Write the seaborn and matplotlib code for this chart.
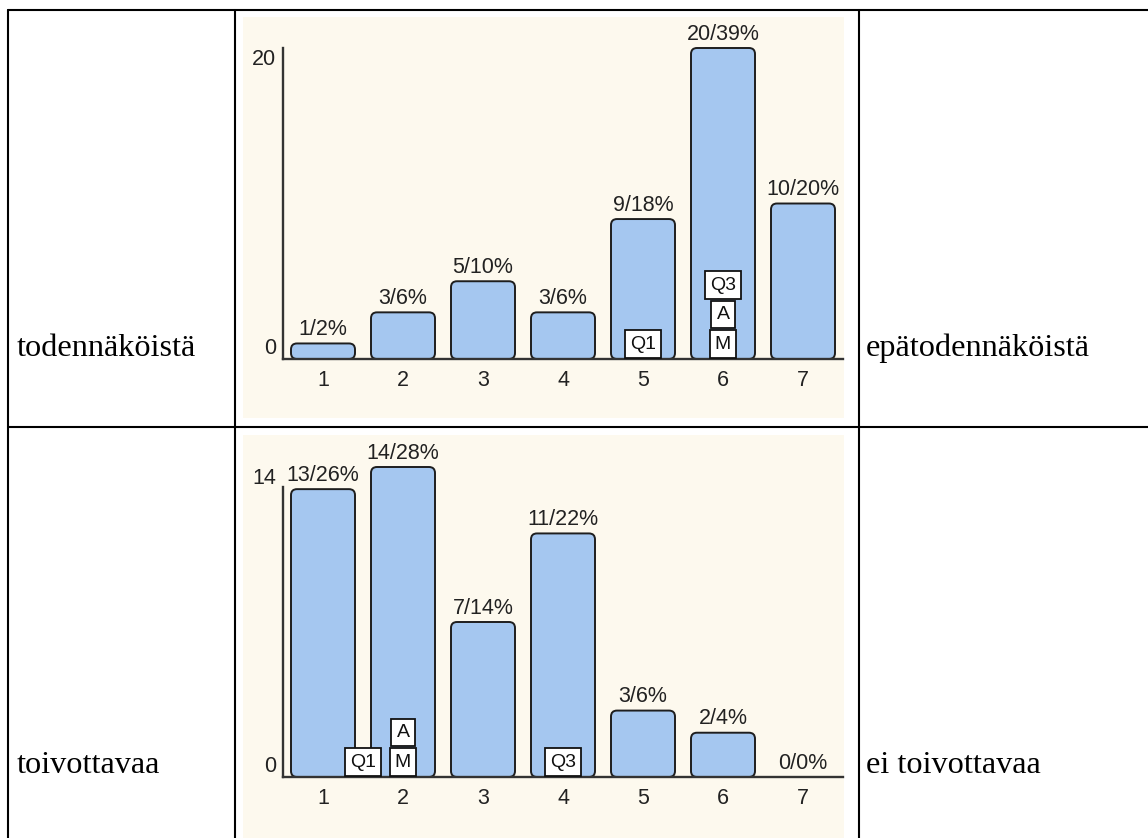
import matplotlib
matplotlib.use("Agg")
import numpy as np
import pandas as pd
import matplotlib.pyplot as plt
import seaborn as sns
from matplotlib.patches import Rectangle, FancyBboxPatch
from matplotlib.lines import Line2D

# ---------------- data ----------------
categories = ["1", "2", "3", "4", "5", "6", "7"]
top_counts = [1, 3, 5, 3, 9, 20, 10]
top_pcts = [2, 6, 10, 6, 18, 39, 20]
bottom_counts = [13, 14, 7, 11, 3, 2, 0]
bottom_pcts = [26, 28, 14, 22, 6, 4, 0]
top_ymax = 20
bottom_ymax = 14
top_markers = [("M", 6), ("A", 6), ("Q1", 5), ("Q3", 6)]
bottom_markers = [("M", 2), ("A", 2), ("Q1", 1.5), ("Q3", 4)]
left_labels = ["todennäköistä", "toivottavaa"]
right_labels = ["epätodennäköistä", "ei toivottavaa"]

# ---------------- style ----------------
W, H = 1148, 838
sns.set_theme(style="white")
plt.rcParams['font.family'] = ['Liberation Sans', 'DejaVu Sans']
CREAM = "#FDF9EE"
BAR = "#A5C7F0"
EDGE = "#1E1E1E"
TXT = "#222222"
FS = 15.5

fig = plt.figure(figsize=(W / 100, H / 100), dpi=100)
fig.patch.set_facecolor("white")


def fx(x):
    return x / W


def fy(y):
    return 1 - y / H


# table grid
lk = dict(color="black", lw=1.5, transform=fig.transFigure)
fig.add_artist(Line2D([fx(8), fx(W)], [fy(10), fy(10)], **lk))
fig.add_artist(Line2D([fx(8), fx(W)], [fy(427), fy(427)], **lk))
for xv in (8, 235, 859):
    fig.add_artist(Line2D([fx(xv), fx(xv)], [fy(10), fy(H)], **lk))

# cream panels
for (y0, y1) in ((17, 418), (435, H)):
    fig.add_artist(Rectangle((fx(243), fy(y1)), fx(844) - fx(243), fy(y0) - fy(y1),
                             transform=fig.transFigure, fc=CREAM, ec="none", zorder=-1))

# row labels
serif = ['Liberation Serif', 'DejaVu Serif']
for lab, yb in zip(left_labels, (356, 773)):
    fig.text(fx(17), fy(yb), lab, family=serif, fontsize=23.2, va="baseline", ha="left", color="black")
for lab, yb in zip(right_labels, (356, 773)):
    fig.text(fx(866), fy(yb), lab, family=serif, fontsize=23.2, va="baseline", ha="left", color="black")


def draw_chart(rect, counts, pcts, ymax, markers, spine_top):
    ax = fig.add_axes(rect)
    ax.set_facecolor("none")
    df = pd.DataFrame({"cat": categories, "n": counts})
    sns.barplot(data=df, x="cat", y="n", order=categories, color=BAR, saturation=1,
                width=0.8, edgecolor=EDGE, linewidth=1.3, ax=ax)
    ax.set_xlim(-0.5, len(categories) - 0.5)
    ax.set_ylim(0, ymax)

    # rounded bars replacing the seaborn rectangles
    t0 = ax.transData.transform((0, 0))
    ppx = ax.transData.transform((1, 0))[0] - t0[0]
    ppy = ax.transData.transform((0, 1))[1] - t0[1]
    r = 6 / ppx
    bars = list(ax.containers[0])
    for p in bars:
        x, y, w, h = p.get_x(), p.get_y(), p.get_width(), p.get_height()
        p.set_visible(False)
        if h <= 0:
            continue
        rr = min(r, w / 2, h * ppy / ppx / 2)
        fb = FancyBboxPatch((x, y), w, h, boxstyle=f"round,pad=0,rounding_size={rr}",
                            mutation_aspect=ppx / ppy, fc=BAR, ec=EDGE, lw=1.4,
                            zorder=2, clip_on=False)
        ax.add_patch(fb)

    ax.bar_label(ax.containers[0], labels=[f"{c}/{p}%" for c, p in zip(counts, pcts)],
                 padding=2.5, fontsize=FS, color=TXT)

    sns.despine(ax=ax)
    for s in ("left", "bottom"):
        ax.spines[s].set_color("#333333")
        ax.spines[s].set_linewidth(1.7)
        ax.spines[s].set_zorder(3)
    ax.spines["left"].set_bounds(0, spine_top)
    ax.set_yticks([])
    ax.tick_params(axis="x", length=0, pad=8, labelsize=FS, colors=TXT)
    ax.set_xlabel("")
    ax.set_ylabel("")

    ax.annotate("0", xy=(0, 0), xycoords=("axes fraction", "data"), xytext=(-7, 0),
                textcoords="offset pixels", ha="right", va="bottom", fontsize=FS, color=TXT)
    ax.annotate(str(ymax), xy=(0, ymax), xycoords=("axes fraction", "data"), xytext=(-7, -1),
                textcoords="offset pixels", ha="right", va="top", fontsize=FS, color=TXT)

    levels = {}
    for name, val in markers:
        pos = val - 1
        lvl = levels.get(pos, 0)
        levels[pos] = lvl + 1
        ax.annotate(name, xy=(pos, 0), xytext=(0, 15 + 29.5 * lvl), textcoords="offset pixels",
                    ha="center", va="center", fontsize=14, color="#111111", zorder=6,
                    annotation_clip=False,
                    bbox=dict(boxstyle="square,pad=0.27", fc="white", ec="#111111", lw=1.3))
    return ax


draw_chart([fx(283), fy(359), 560 / W, 311 / H], top_counts, top_pcts, top_ymax,
           top_markers, top_ymax)
draw_chart([fx(283), fy(777), 560 / W, 310 / H], bottom_counts, bottom_pcts, bottom_ymax,
           bottom_markers, bottom_ymax * 0.935)

fig.savefig("out.png", dpi=100)
